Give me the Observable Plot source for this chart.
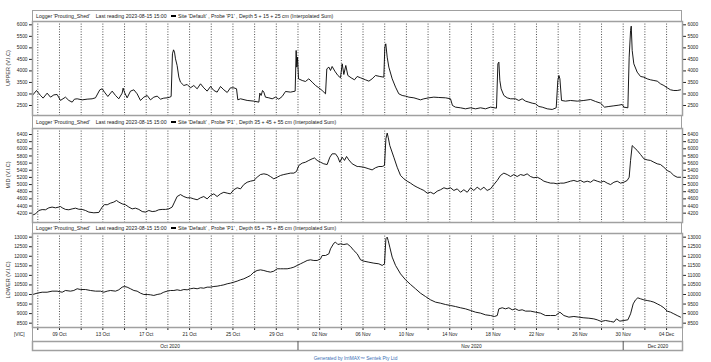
<!DOCTYPE html>
<html><head><meta charset="utf-8">
<script src="https://cdn.jsdelivr.net/npm/d3@7"></script>
<script src="https://cdn.jsdelivr.net/npm/@observablehq/plot@0.6"></script>
<style>
body{margin:0;background:#fff;}
#chart{position:relative;width:711px;height:362px;font-family:"Liberation Sans",Arial,sans-serif;color:#222;overflow:hidden;background:#fff}
.hdr{position:absolute;left:32px;width:650px;box-sizing:border-box;border:1px solid #a0a0a0;border-bottom:none;font-size:5.2px;white-space:pre;padding-left:3px;display:flex;align-items:center;background:#fff}
.ytitle{position:absolute;font-size:5.5px;transform:translate(-50%,-50%) rotate(-90deg);white-space:nowrap;color:#333}
.swatch{display:inline-block;width:5px;height:1.6px;background:#000;margin:0 2px 0 0}
.vline{position:absolute;width:0;border-left:1.5px solid #a0a0a0}
.plotbox{position:absolute;left:0}
</style></head><body><div id="chart"></div>
<script>
// time in days since 2020-10-01 00:00 UTC
const upperDays = [5.54,5.88,6.25,6.49,6.86,7.17,7.48,7.78,8.09,8.55,8.86,9.17,9.38,9.63,10.09,10.55,11.01,11.32,11.72,11.94,12.15,12.46,12.86,13.17,13.47,13.78,13.87,13.99,14.24,14.55,14.86,15.16,15.47,15.78,16.09,16.39,16.70,17.01,17.32,17.62,17.93,18.18,18.30,18.42,18.52,18.61,18.70,18.85,19.01,19.16,19.47,19.78,20.08,20.39,20.70,21.01,21.31,21.62,21.93,22.24,22.54,22.85,23.16,23.47,23.77,24.08,24.33,24.45,24.70,25.31,25.93,26.39,26.48,26.60,26.73,26.85,27.00,27.31,27.62,27.93,28.23,28.54,28.85,29.31,29.74,29.83,29.89,29.96,30.05,30.39,30.69,31.00,31.31,31.62,31.92,32.23,32.54,32.66,32.85,33.00,33.15,33.40,33.68,33.92,34.08,34.23,34.41,34.60,34.90,35.21,35.46,35.77,36.23,36.54,36.84,37.15,37.55,37.92,38.01,38.10,38.23,38.38,38.69,39.00,39.30,39.61,39.92,40.23,40.69,40.99,41.30,41.61,42.07,42.53,42.99,43.61,44.07,44.25,44.53,44.99,45.45,45.92,46.38,46.84,47.30,47.76,48.31,48.44,48.53,48.62,48.74,48.99,49.30,49.61,50.07,50.37,50.68,50.99,51.30,51.60,51.91,52.22,52.53,52.99,53.45,53.82,53.97,54.07,54.16,54.31,54.68,55.14,55.76,56.37,56.99,57.45,57.91,58.28,58.68,59.14,59.60,59.91,60.06,60.43,60.55,60.68,60.74,60.83,60.98,61.29,61.60,61.91,62.21,62.52,62.83,63.14,63.44,63.75,64.06,64.37,64.67,64.98,65.29];
const upperVals = [2960,3150,2935,2820,3035,2862,2960,2978,2720,2862,2720,2645,2775,2790,2745,2775,2790,2833,3180,3224,3080,2891,3123,2935,2790,3036,3253,3080,2833,3123,3180,3007,2720,2862,2935,2745,2862,2906,2775,2819,2833,2862,2891,4742,4915,4814,4525,4236,3730,3513,3368,3412,3267,3368,3224,3441,3267,3123,3325,3151,3080,3325,3180,3065,3267,3267,3224,2745,2790,2720,2689,2645,3036,2935,3151,3080,2862,2833,2790,2862,2775,2891,3108,3080,3123,4887,4164,4597,3657,3585,3542,3657,3513,3368,3267,3151,3007,4091,4164,4019,4193,3990,3802,3701,4308,3846,4236,3802,3701,3614,3759,3701,3614,3556,3657,3802,3759,3730,5031,5176,4597,4164,3657,3296,3007,2935,2906,2862,2833,2790,2745,2790,2833,2862,2848,2833,2790,2501,2428,2400,2356,2400,2356,2400,2356,2428,2385,4308,4380,3585,3224,2935,2833,2790,2790,2718,2790,2689,2645,2602,2573,2457,2428,2356,2327,2400,3585,3802,3657,2718,2689,2718,2689,2718,2761,2674,2602,2428,2457,2486,2515,2544,2428,2400,4597,5754,5942,4887,4308,3947,3759,3730,3657,3614,3585,3556,3441,3368,3267,3180,3151,3151,3180];

const midDays = [5.54,5.79,6.09,6.40,6.71,7.02,7.32,7.63,7.94,8.09,8.25,8.55,8.86,9.17,9.48,9.78,10.09,10.40,10.71,11.17,11.63,11.78,11.94,12.15,12.40,12.70,13.01,13.26,13.47,13.78,14.09,14.40,14.70,15.01,15.32,15.63,15.93,16.24,16.55,16.86,17.16,17.47,17.78,18.09,18.39,18.61,18.85,19.16,19.47,19.78,20.08,20.39,20.70,21.01,21.31,21.62,21.93,22.24,22.54,22.85,23.16,23.47,23.77,24.08,24.39,24.70,25.00,25.31,25.62,25.93,26.23,26.54,26.85,27.16,27.46,27.77,28.08,28.39,28.69,29.00,29.31,29.62,29.86,30.08,30.39,30.69,31.00,31.31,31.52,31.77,32.08,32.38,32.69,32.94,33.15,33.46,33.68,33.86,34.08,34.29,34.48,34.69,35.00,35.46,35.61,36.08,36.54,36.84,37.15,37.46,37.77,37.98,38.11,38.23,38.32,38.47,38.84,39.15,39.46,39.77,40.07,40.38,40.69,40.99,41.30,41.61,41.92,42.23,42.53,42.84,43.15,43.46,43.76,44.07,44.38,44.69,44.99,45.30,45.61,45.92,46.22,46.53,46.84,47.15,47.45,47.76,48.07,48.38,48.68,48.99,49.30,49.61,49.91,50.22,50.53,50.84,51.14,51.45,51.76,52.07,52.37,52.68,52.99,53.30,53.60,53.91,54.22,54.53,54.83,55.14,55.45,55.76,56.06,56.37,56.68,56.99,57.29,57.60,57.91,58.22,58.52,58.83,59.14,59.45,59.75,60.06,60.37,60.55,60.68,60.83,60.98,61.29,61.60,61.91,62.21,62.52,62.83,63.14,63.44,63.75,64.06,64.37,64.67,64.98,65.29];
const midVals = [4150,4180,4275,4300,4295,4350,4370,4350,4370,4385,4350,4305,4295,4320,4340,4310,4305,4275,4230,4210,4220,4295,4370,4440,4435,4480,4510,4555,4510,4460,4435,4370,4320,4340,4305,4245,4230,4275,4245,4255,4295,4305,4305,4320,4370,4510,4665,4720,4665,4630,4630,4600,4575,4630,4665,4600,4695,4740,4665,4740,4785,4760,4740,4855,4910,4880,5000,5065,5095,5115,5205,5280,5300,5280,5225,5160,5205,5255,5280,5300,5320,5320,5365,5535,5600,5625,5675,5720,5745,5675,5625,5580,5560,5765,5860,5860,5765,5625,5765,5675,5785,5690,5580,5505,5505,5485,5440,5410,5470,5505,5505,5535,6280,6440,6325,6090,5765,5485,5255,5160,5095,5040,4975,4925,4880,4835,4760,4785,4740,4815,4855,4910,4880,4910,4835,4880,4785,4855,4785,4910,4835,4925,4855,4925,4835,4880,5000,5115,5255,5320,5280,5225,5280,5225,5280,5255,5300,5225,5190,5205,5160,5095,5065,5040,5040,5020,5040,5040,5065,5095,5115,5085,5115,5065,5095,5065,5130,5095,5065,5095,5040,5000,5065,5095,5040,5065,5115,5205,5675,6090,6045,5955,5840,5720,5690,5675,5625,5580,5560,5485,5395,5345,5255,5205,5205];

const lowerDays = [5.54,5.94,6.40,6.86,7.32,7.78,8.25,8.55,9.01,9.32,9.63,9.94,10.40,10.86,11.32,11.78,12.09,12.40,12.70,13.17,13.47,13.78,13.99,14.24,14.55,14.86,15.16,15.47,15.78,16.09,16.39,16.70,17.01,17.32,17.62,17.93,18.24,18.55,18.85,19.16,19.47,19.78,20.08,20.39,20.70,21.01,21.31,21.62,21.93,22.24,22.54,22.85,23.16,23.47,23.77,24.08,24.39,24.70,25.00,25.31,25.62,25.93,26.23,26.54,26.85,27.16,27.46,27.77,28.08,28.39,28.69,29.00,29.31,29.62,29.93,30.23,30.54,30.85,31.15,31.46,31.77,32.08,32.23,32.54,32.85,33.00,33.31,33.46,33.68,33.92,34.23,34.54,34.85,35.15,35.46,35.77,36.08,36.54,37.00,37.46,37.77,37.98,38.11,38.23,38.32,38.47,38.69,39.00,39.46,39.92,40.38,40.84,41.30,41.76,42.23,42.69,43.15,43.61,44.07,44.53,44.99,45.45,45.92,46.38,46.84,47.30,47.76,48.13,48.38,48.53,48.84,49.14,49.45,49.76,50.07,50.37,50.68,50.99,51.45,51.91,52.37,52.83,53.30,53.76,54.16,54.53,54.99,55.45,55.91,56.37,56.83,57.29,57.60,57.97,58.37,58.83,59.14,59.38,59.69,60.06,60.43,60.68,60.92,61.14,61.35,61.60,61.91,62.21,62.52,62.83,63.14,63.44,63.75,64.06,64.37,64.67,64.98,65.29];
const lowerVals = [10000,10070,10120,10120,10175,10175,10120,10210,10175,10210,10300,10260,10260,10210,10175,10175,10120,10175,10210,10175,10245,10385,10420,10385,10300,10210,10175,10070,10000,10000,9985,9950,10000,10035,10120,10175,10210,10210,10245,10210,10260,10245,10300,10330,10300,10350,10330,10385,10385,10420,10435,10470,10505,10560,10595,10645,10700,10770,10820,10905,10995,11170,11255,11290,11255,11205,11170,11220,11345,11345,11345,11345,11380,11430,11520,11605,11690,11780,11815,11780,11780,11865,12040,12040,12130,12390,12685,12740,12615,12650,12615,12650,12510,12300,12130,11815,11745,11690,11640,11605,11520,11605,12915,13000,12825,12475,11955,11520,11080,10770,10525,10300,10070,9895,9720,9600,9545,9475,9425,9370,9305,9250,9165,9075,9025,8935,8900,8850,8900,9250,9305,9250,9305,9200,9250,9165,9200,9130,9130,9075,9025,8900,8900,8900,9075,8900,8815,8850,8815,8780,8760,8725,8675,8590,8640,8590,8555,8725,8605,8640,8675,8990,9510,9720,9825,9775,9720,9685,9650,9600,9510,9425,9305,9130,9075,8990,8900,8815];

const upperTicks = [2500,3000,3500,4000,4500,5000,5500,6000];
const midTicks = [4200,4400,4600,4800,5000,5200,5400,5600,5800,6000,6200,6400];
const lowerTicks = [8500,9000,9500,10000,10500,11000,11500,12000,12500,13000];
const panelNames = ["UPPER (V.I.C)","MID (V.I.C)","LOWER (V.I.C)"];
const depths = ["5 + 15 + 25","35 + 45 + 55","65 + 75 + 85"];
const months = ["Oct 2020","Nov 2020","Dec 2020"];
const monthStartDays = [30, 60];      // Nov 1, Dec 1
const monthMidDays = [18.2, 46.0, 63.2];

const day0 = Date.UTC(2020, 9, 1);
const toDate = t => new Date(day0 + t * 864e5);
const xDomain = [toDate(5.51), toDate(65.47)];
const gridDates = d3.range(6, 65, 2).map(toDate);
const labelFmt = d3.utcFormat("%d %b");
const tickFmt = d => (Math.round((d - day0) / 864e5) - 8) % 4 === 0 ? labelFmt(d) : "";

const chart = document.getElementById("chart");
const fontFamily = '"Liberation Sans", Arial, sans-serif';

function addHeader(top, height, depth) {
  const h = document.createElement("div");
  h.className = "hdr";
  h.style.top = top + "px";
  h.style.height = height + "px";
  h.innerHTML = `<span>Logger 'Prouting_Shed'    Last reading 2023-08-15 15:00   </span><span class="swatch"></span><span>Site 'Default' , Probe 'P1' , Depth ${depth} cm (Interpolated Sum)</span>`;
  chart.appendChild(h);
}

function addPanel({days, vals, domain, ticks, plotTop, plotH, showX, name}) {
  const mt = 8, mb = showX ? 14 : 8;
  const data = days.map((t, i) => ({date: toDate(t), v: vals[i]}));
  const svg = Plot.plot({
    width: 711, height: plotH + mt + mb,
    marginLeft: 32, marginRight: 29, marginTop: mt, marginBottom: mb,
    style: {fontSize: "4.8px", fontFamily, color: "#222", background: "transparent", overflow: "visible"},
    x: {type: "utc", domain: xDomain, axis: showX ? "bottom" : null, ticks: gridDates, tickFormat: tickFmt, tickSize: 3, tickPadding: 2.5, label: null},
    y: {domain, ticks, axis: "both", tickSize: 3, tickPadding: 2, label: null, tickFormat: d => String(d)},
    marks: [
      Plot.ruleX(gridDates, {stroke: "#222", strokeDasharray: "1,1.6", strokeWidth: 0.8}),
      Plot.line(data, {x: "date", y: "v", stroke: "#000", strokeWidth: 0.9}),
      Plot.frame({stroke: "#a0a0a0", strokeWidth: 1.5})
    ]
  });
  const wrap = document.createElement("div");
  wrap.className = "plotbox";
  wrap.style.top = (plotTop - mt) + "px";
  wrap.appendChild(svg);
  chart.appendChild(wrap);
  const yt = document.createElement("div");
  yt.className = "ytitle";
  yt.textContent = name;
  yt.style.left = "7.5px";
  yt.style.top = (plotTop + plotH / 2) + "px";
  chart.appendChild(yt);
}

addHeader(10, 11, depths[0]);
addHeader(115, 13, depths[1]);
addHeader(222, 11, depths[2]);

addPanel({days: upperDays, vals: upperVals, domain: [2066, 6144], ticks: upperTicks, plotTop: 21, plotH: 94, showX: false, name: panelNames[0]});
addPanel({days: midDays, vals: midVals, domain: [3939, 6568], ticks: midTicks, plotTop: 128, plotH: 94, showX: false, name: panelNames[1]});
addPanel({days: lowerDays, vals: lowerVals, domain: [8273, 13192], ticks: lowerTicks, plotTop: 233, plotH: 94, showX: true, name: panelNames[2]});

// side lines between plot bottom and month row
for (const x of [31.5, 681.5]) {
  const v = document.createElement("div");
  v.className = "vline";
  v.style.left = x + "px"; v.style.top = "327px"; v.style.height = "14px";
  chart.appendChild(v);
}

// month row
const monthData = months.map((m, i) => ({m, d: toDate(monthMidDays[i])}));
const monthSvg = Plot.plot({
  width: 711, height: 9,
  marginLeft: 32, marginRight: 29, marginTop: 0, marginBottom: 0,
  style: {fontSize: "4.8px", fontFamily, color: "#222", background: "transparent", overflow: "visible"},
  x: {type: "utc", domain: xDomain, axis: null},
  marks: [
    Plot.frame({stroke: "#a0a0a0", strokeWidth: 1.5}),
    Plot.ruleX(monthStartDays.map(toDate), {stroke: "#555", strokeWidth: 1}),
    Plot.text(monthData, {x: "d", text: "m", frameAnchor: "middle", fill: "#222"})
  ]
});
const mw = document.createElement("div");
mw.className = "plotbox"; mw.style.top = "341px";
mw.appendChild(monthSvg);
chart.appendChild(mw);

const vic = document.createElement("div");
vic.style.cssText = "position:absolute;left:14px;top:332px;font-size:4.8px;color:#222";
vic.textContent = "[VIC]";
chart.appendChild(vic);

const foot = document.createElement("div");
foot.style.cssText = "position:absolute;left:0;width:711px;text-align:center;top:355.5px;font-size:4.8px;color:#3a6fb5";
foot.textContent = "Generated by IrriMAX™ Sentek Pty Ltd";
chart.appendChild(foot);
</script></body></html>
